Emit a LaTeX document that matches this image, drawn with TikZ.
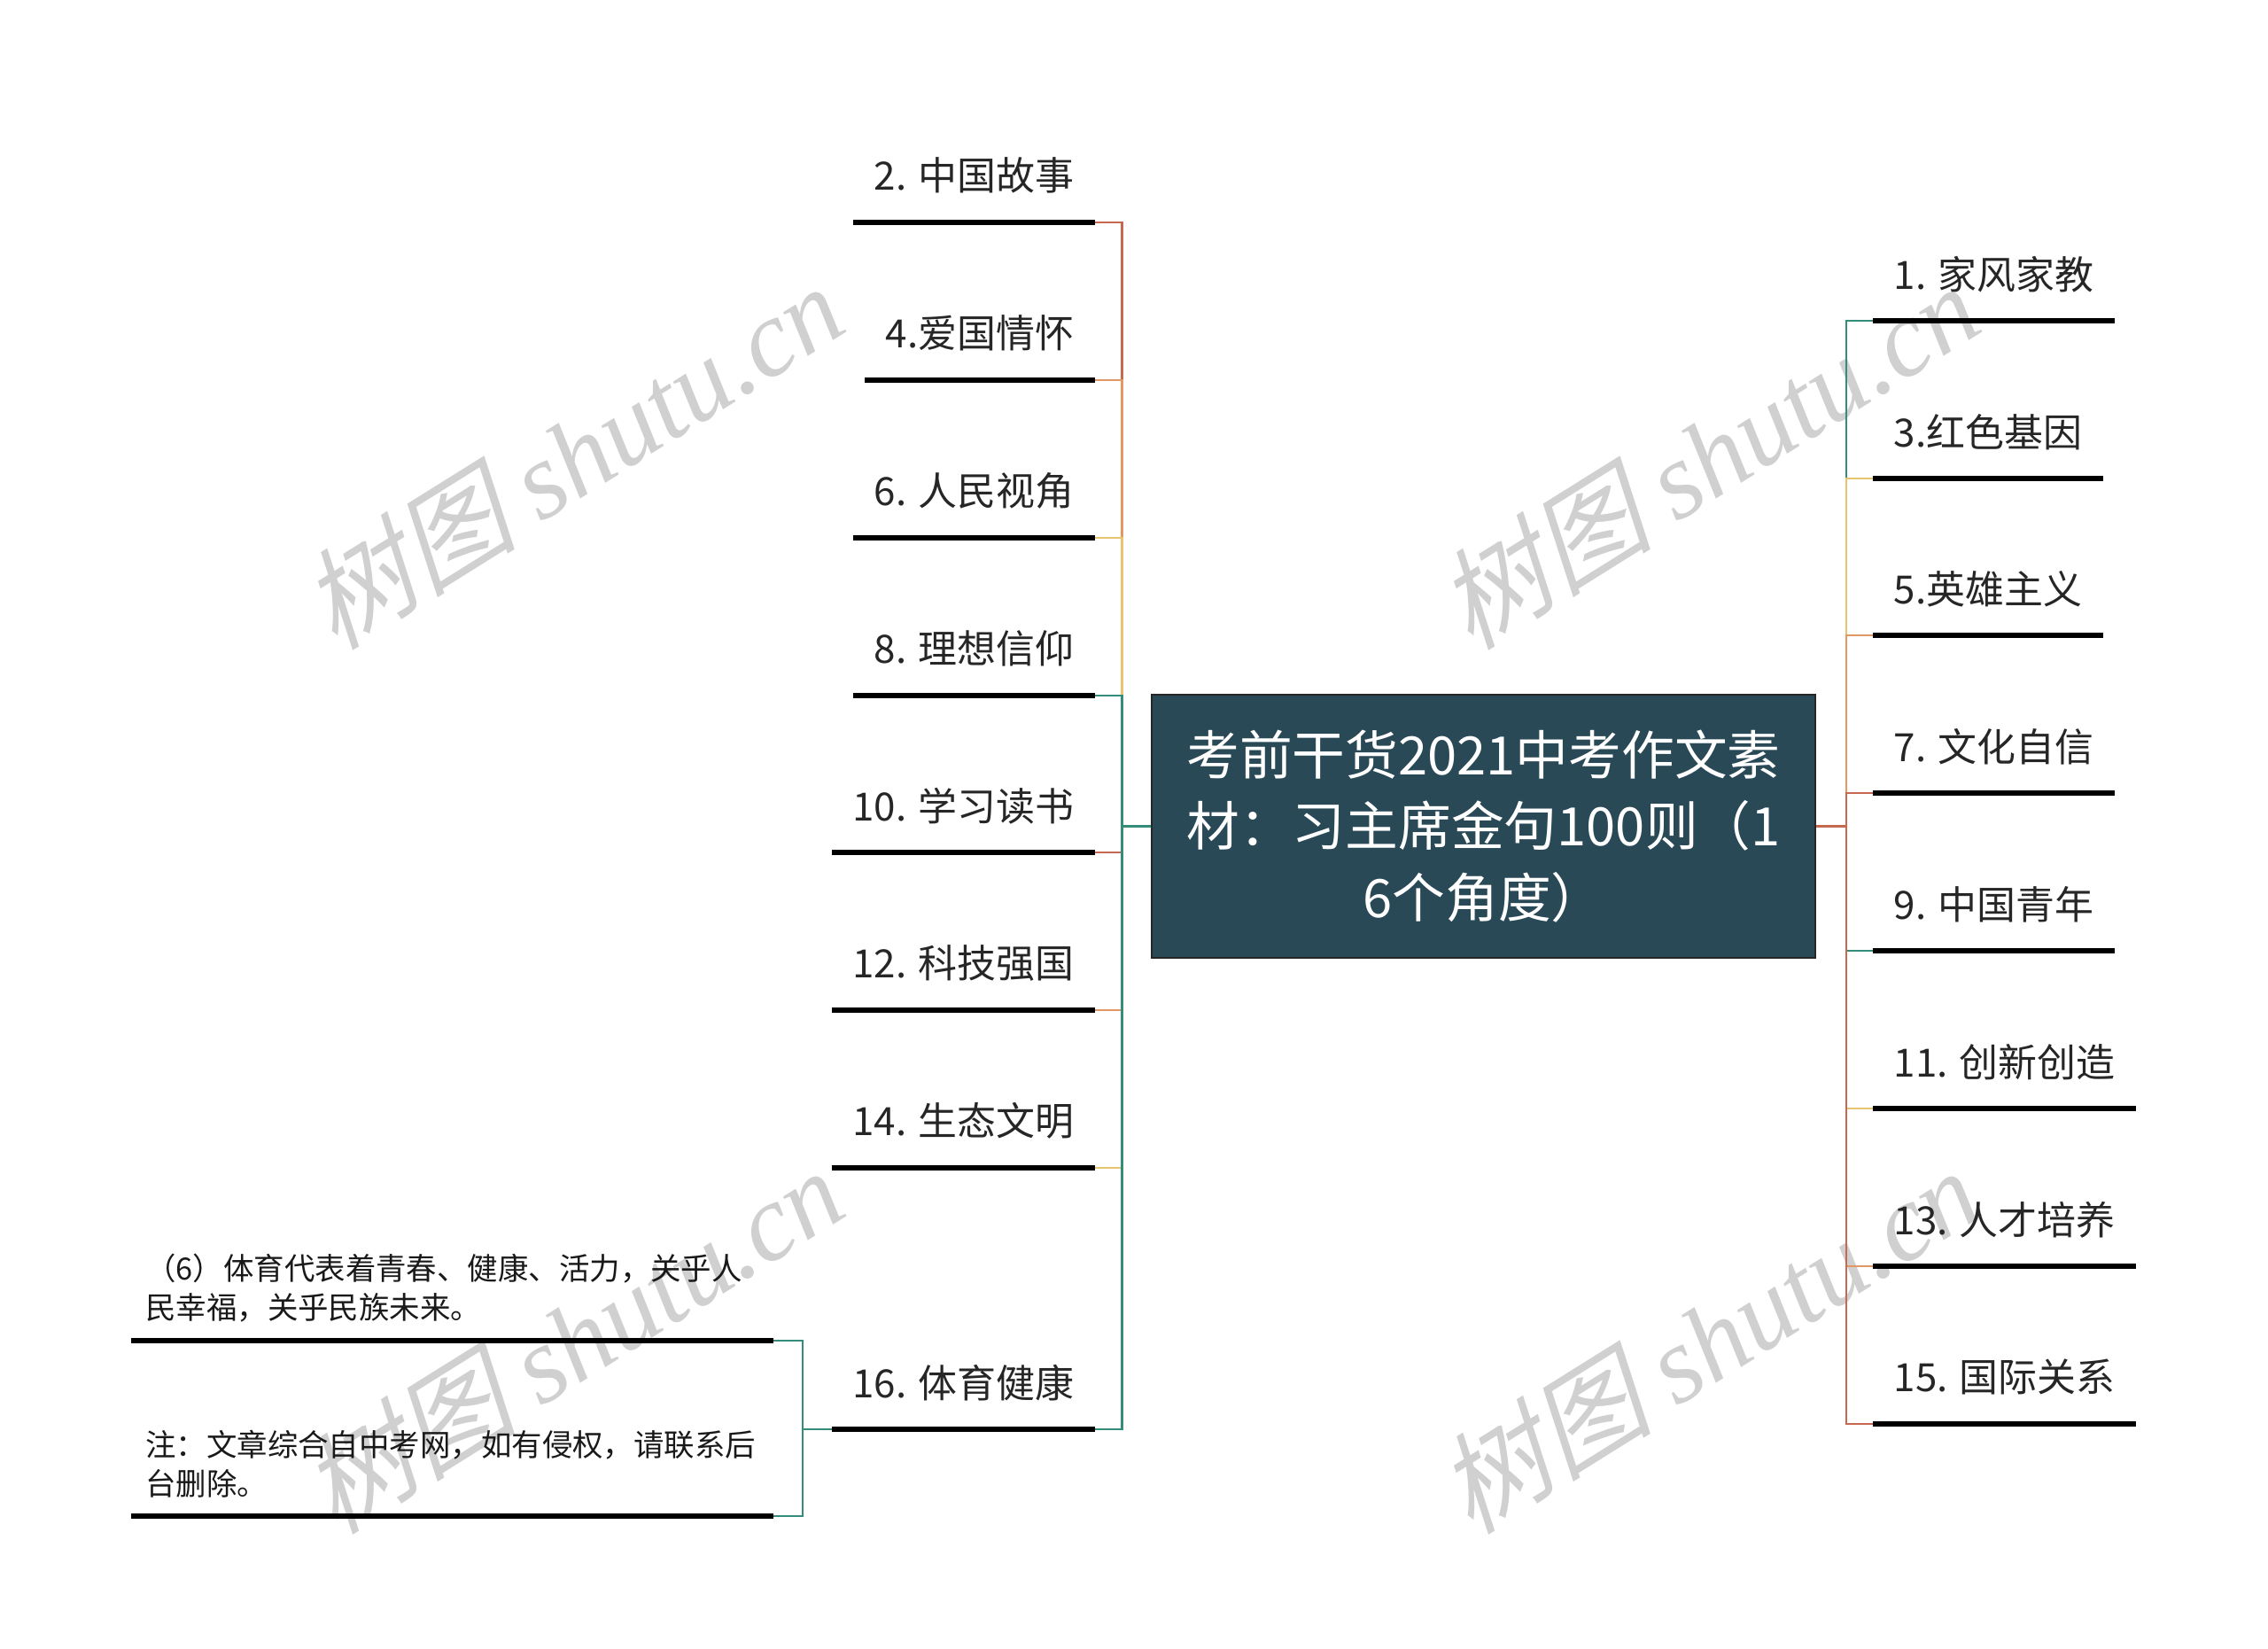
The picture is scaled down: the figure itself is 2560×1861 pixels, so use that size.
\documentclass[tikz,border=0pt]{standalone}
\usepackage{fontspec}
\setmainfont{Noto Sans CJK SC}
\newfontfamily\markcjk[FakeSlant=0.25]{Noto Sans CJK SC}
\newfontfamily\marklatin{Liberation Serif}
\usepackage{tikz}
\usetikzlibrary{positioning,calc}
\usepackage{xcolor}
\definecolor{title-blue}{RGB}{41,73,87}
\definecolor{line-teal}{RGB}{52,140,122}
\definecolor{line-red}{RGB}{199,104,80}
\definecolor{line-orange}{RGB}{226,152,100}
\definecolor{line-yellow}{RGB}{231,196,112}
\definecolor{mark-grey}{RGB}{208,208,208}
\tikzstyle{central}=[fill=title-blue, draw=black!85, line width=0.15mm, text=white, minimum width=74.9mm, minimum height=29.7mm, align=center, font=\fontsize{17}{23}\selectfont]
\tikzstyle{topic}=[inner xsep=2.3mm, inner ysep=0pt, minimum height=10.4mm, text=black!85, font=\fontsize{12.5}{15}\selectfont]
\tikzstyle{note}=[inner xsep=1.6mm, inner ysep=2mm, text width=69.2mm, align=left, text=black!90, font=\fontsize{9.8}{12.5}\selectfont]
\tikzstyle{bar}=[line width=0.6mm, black]
\tikzstyle{branch}=[line width=0.25mm]
\tikzstyle{watermark}=[text=mark-grey, rotate=32, font=\fontsize{35}{35}\selectfont]

\begin{document}
\begin{tikzpicture}[x=0.1mm, y=-0.1mm]
	\useasboundingbox (0,0) rectangle (2560,1861);
	% watermarks
	\node[watermark] (wm1) at (645,514) {{\markcjk 树图} {\marklatin\itshape shutu.cn}};
	\node[watermark] (wm2) at (1927,514) {{\markcjk 树图} {\marklatin\itshape shutu.cn}};
	\node[watermark] (wm3) at (645,1512) {{\markcjk 树图} {\marklatin\itshape shutu.cn}};
	\node[watermark] (wm4) at (1927,1512) {{\markcjk 树图} {\marklatin\itshape shutu.cn}};

	\node[central] (title) at (1674.5,932.5) {考前干货2021中考作文素\\材：习主席金句100则（1\\6个角度）};

	% left side
	\node[topic, anchor=south east] (n2) at (1236,251) {2. 中国故事};
	\node[topic, anchor=south east] (n4) at (1236,429) {4.爱国情怀};
	\node[topic, anchor=south east] (n6) at (1236,607) {6. 人民视角};
	\node[topic, anchor=south east] (n8) at (1236,785) {8. 理想信仰};
	\node[topic, anchor=south east] (n10) at (1236,962) {10. 学习读书};
	\node[topic, anchor=south east] (n12) at (1236,1140) {12. 科技强国};
	\node[topic, anchor=south east] (n14) at (1236,1318) {14. 生态文明};
	\node[topic, anchor=south east] (n16) at (1236,1613) {16. 体育健康};

	% right side
	\node[topic, anchor=south west] (n1) at (2114,362) {1. 家风家教};
	\node[topic, anchor=south west] (n3) at (2114,540) {3.红色基因};
	\node[topic, anchor=south west] (n5) at (2114,717) {5.英雄主义};
	\node[topic, anchor=south west] (n7) at (2114,895) {7. 文化自信};
	\node[topic, anchor=south west] (n9) at (2114,1073) {9. 中国青年};
	\node[topic, anchor=south west] (n11) at (2114,1251) {11. 创新创造};
	\node[topic, anchor=south west] (n13) at (2114,1429) {13. 人才培养};
	\node[topic, anchor=south west] (n15) at (2114,1607) {15. 国际关系};

	% notes under 16
	\node[note, anchor=south east] (note1) at (873,1513) {（6）体育代表着青春、健康、活力，关乎人\\民幸福，关乎民族未来。};
	\node[note, anchor=south east] (note2) at (873,1711) {注：文章综合自中考网，如有侵权，请联系后\\台删除。};

	\draw[branch, line-red] (title.west) -- ++(-33,0) |- (n2.south east);
	\draw[branch, line-orange] (title.west) -- ++(-33,0) |- (n4.south east);
	\draw[branch, line-yellow] (title.west) -- ++(-33,0) |- (n6.south east);
	\draw[branch, line-teal] (title.west) -- ++(-33,0) |- (n8.south east);
	\draw[branch, line-red] (title.west) -- ++(-33,0) |- (n10.south east);
	\draw[branch, line-orange] (title.west) -- ++(-33,0) |- (n12.south east);
	\draw[branch, line-yellow] (title.west) -- ++(-33,0) |- (n14.south east);
	\draw[branch, line-teal] (title.west) -- ++(-33,0) |- (n16.south east);

	\draw[branch, line-teal] (title.east) -- ++(34,0) |- (n1.south west);
	\draw[branch, line-yellow] (title.east) -- ++(34,0) |- (n3.south west);
	\draw[branch, line-orange] (title.east) -- ++(34,0) |- (n5.south west);
	\draw[branch, line-red] (title.east) -- ++(34,0) |- (n7.south west);
	\draw[branch, line-teal] (title.east) -- ++(34,0) |- (n9.south west);
	\draw[branch, line-yellow] (title.east) -- ++(34,0) |- (n11.south west);
	\draw[branch, line-orange] (title.east) -- ++(34,0) |- (n13.south west);
	\draw[branch, line-red] (title.east) -- ++(34,0) |- (n15.south west);

	\draw[branch, line-teal] (n16.south west) -- ++(-33,0) |- (note1.south east);
	\draw[branch, line-teal] (n16.south west) -- ++(-33,0) |- (note2.south east);

	\draw[bar] (n2.south west) -- (n2.south east);
	\draw[bar] (n4.south west) -- (n4.south east);
	\draw[bar] (n6.south west) -- (n6.south east);
	\draw[bar] (n8.south west) -- (n8.south east);
	\draw[bar] (n10.south west) -- (n10.south east);
	\draw[bar] (n12.south west) -- (n12.south east);
	\draw[bar] (n14.south west) -- (n14.south east);
	\draw[bar] (n16.south west) -- (n16.south east);
	\draw[bar] (n1.south west) -- (n1.south east);
	\draw[bar] (n3.south west) -- (n3.south east);
	\draw[bar] (n5.south west) -- (n5.south east);
	\draw[bar] (n7.south west) -- (n7.south east);
	\draw[bar] (n9.south west) -- (n9.south east);
	\draw[bar] (n11.south west) -- (n11.south east);
	\draw[bar] (n13.south west) -- (n13.south east);
	\draw[bar] (n15.south west) -- (n15.south east);
	\draw[bar] (note1.south west) -- (note1.south east);
	\draw[bar] (note2.south west) -- (note2.south east);
\end{tikzpicture}
\end{document}
